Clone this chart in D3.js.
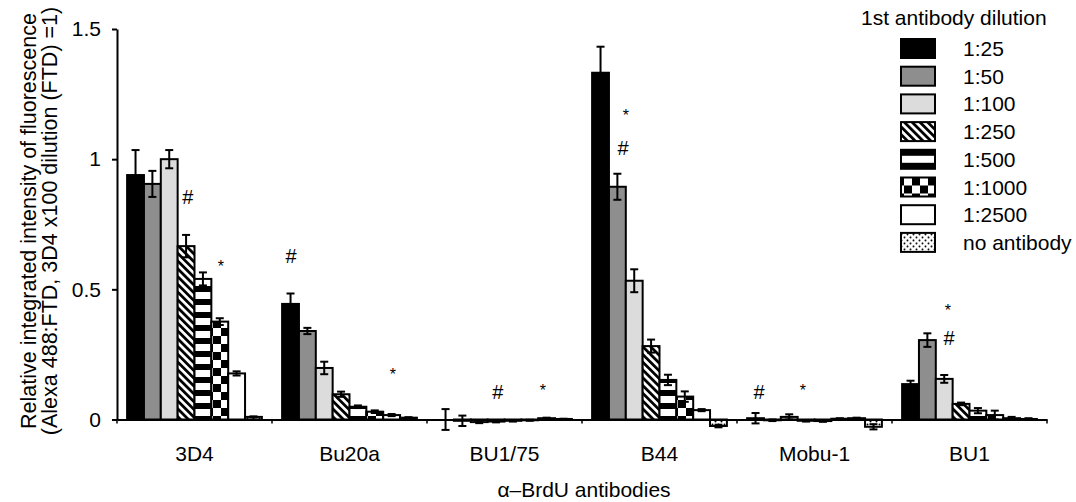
<!DOCTYPE html>
<html>
<head>
<meta charset="utf-8">
<script src="https://cdn.jsdelivr.net/npm/d3@7"></script>
<style>
  body { margin: 0; background: #fff; }
  text { font-family: Arial, "Liberation Sans", sans-serif; fill: #000; }
</style>
</head>
<body>
<svg width="1076" height="502"></svg>
<script>
const categories = ["3D4", "Bu20a", "BU1/75", "B44", "Mobu-1", "BU1"];
const dilutions = ["1:25", "1:50", "1:100", "1:250", "1:500", "1:1000", "1:2500", "no antibody"];
const yTicks = [0, 0.5, 1, 1.5];

// mean values per antibody, one per dilution
const val3D4   = [0.939, 0.905, 1.0, 0.666, 0.54, 0.376, 0.177, 0.01];
const valBu20a = [0.444, 0.34, 0.198, 0.097, 0.049, 0.03, 0.017, 0.007];
const valBU175 = [0.0, -0.005, -0.01, -0.008, -0.005, -0.003, 0.005, 0.002];
const valB44   = [1.332, 0.894, 0.533, 0.282, 0.152, 0.088, 0.036, -0.025];
const valMobu1 = [0.005, -0.003, 0.01, -0.005, -0.006, 0.003, 0.005, -0.028];
const valBU1   = [0.136, 0.305, 0.156, 0.06, 0.034, 0.017, 0.005, 0.002];

// error bars
const err3D4   = [0.096, 0.05, 0.035, 0.043, 0.025, 0.013, 0.008, 0.002];
const errBu20a = [0.04, 0.012, 0.024, 0.01, 0.005, 0.005, 0.004, 0.002];
const errBU175 = [0.04, 0.02, 0.004, 0.003, 0.003, 0.002, 0.002, 0.001];
const errB44   = [0.1, 0.05, 0.044, 0.025, 0.02, 0.02, 0.004, 0.005];
const errMobu1 = [0.02, 0.003, 0.01, 0.003, 0.003, 0.002, 0.002, 0.01];
const errBU1   = [0.013, 0.026, 0.015, 0.005, 0.01, 0.017, 0.005, 0.003];

// significance marks: antibody, position in bar widths from group start, height, symbol
const marks = [
  ["3D4", 3.6, 0.855, "#"], ["3D4", 5.56, 0.601, "*"],
  ["Bu20a", 0.53, 0.628, "#"], ["Bu20a", 6.57, 0.186, "*"],
  ["BU1/75", 3.6, 0.106, "#"], ["BU1/75", 6.27, 0.125, "*"],
  ["B44", 1.83, 1.043, "#"], ["B44", 2.0, 1.181, "*"],
  ["Mobu-1", 0.71, 0.106, "#"], ["Mobu-1", 3.31, 0.125, "*"],
  ["BU1", 2.78, 0.313, "#"], ["BU1", 2.72, 0.432, "*"]
];

const values = [val3D4, valBu20a, valBU175, valB44, valMobu1, valBU1];
const errors = [err3D4, errBu20a, errBU175, errB44, errMobu1, errBU1];

const svg = d3.select("svg");
const fills = ["#000", "#8e8e8e", "#dcdcdc", "url(#p250)", "url(#p500)", "url(#p1000)", "#fff", "url(#pdots)"];

// patterns
const defs = svg.append("defs");
const p250 = defs.append("pattern").attr("id", "p250").attr("patternUnits", "userSpaceOnUse")
  .attr("width", 5.5).attr("height", 10).attr("patternTransform", "rotate(-45)");
p250.append("rect").attr("width", 5.5).attr("height", 10).attr("fill", "#fff");
p250.append("rect").attr("width", 2.8).attr("height", 10).attr("fill", "#000");

const p500 = defs.append("pattern").attr("id", "p500").attr("patternUnits", "userSpaceOnUse")
  .attr("width", 10).attr("height", 13);
p500.append("rect").attr("width", 10).attr("height", 13).attr("fill", "#fff");
p500.append("rect").attr("width", 10).attr("height", 6).attr("fill", "#000");

const p1000 = defs.append("pattern").attr("id", "p1000").attr("patternUnits", "userSpaceOnUse")
  .attr("width", 16).attr("height", 16);
p1000.append("rect").attr("width", 16).attr("height", 16).attr("fill", "#fff");
p1000.append("rect").attr("width", 8).attr("height", 8).attr("fill", "#000");
p1000.append("rect").attr("x", 8).attr("y", 8).attr("width", 8).attr("height", 8).attr("fill", "#000");

const pdots = defs.append("pattern").attr("id", "pdots").attr("patternUnits", "userSpaceOnUse")
  .attr("width", 6).attr("height", 6);
pdots.append("rect").attr("width", 6).attr("height", 6).attr("fill", "#fff");
pdots.append("circle").attr("cx", 1.5).attr("cy", 1.5).attr("r", 1).attr("fill", "#000");
pdots.append("circle").attr("cx", 4.5).attr("cy", 4.5).attr("r", 1).attr("fill", "#000");

// scales
const y = d3.scaleLinear().domain([0, 1.5]).range([419.5, 29]);
const x0 = d3.scaleBand().domain(categories).range([117, 1047]);
const x1 = d3.scaleBand().domain(dilutions).range([0, x0.bandwidth()]).paddingOuter(0.6);

// bars
const groups = svg.selectAll("g.grp")
  .data(categories)
  .join("g")
  .attr("class", "grp")
  .attr("transform", c => `translate(${x0(c)},0)`);

groups.each(function (c, ci) {
  const g = d3.select(this);
  const rows = dilutions.map((d, i) => ({ d, i, v: values[ci][i], e: errors[ci][i] }));

  g.selectAll("rect")
    .data(rows)
    .join("rect")
    .attr("x", r => x1(r.d))
    .attr("width", x1.bandwidth())
    .attr("y", r => y(Math.max(0, r.v)))
    .attr("height", r => Math.abs(y(r.v) - y(0)))
    .attr("fill", r => fills[r.i])
    .attr("stroke", "#000")
    .attr("stroke-width", 2);

  const eb = g.selectAll("g.err")
    .data(rows)
    .join("g")
    .attr("class", "err")
    .attr("transform", r => `translate(${x1(r.d) + x1.bandwidth() / 2},0)`)
    .attr("stroke", "#000")
    .attr("stroke-width", 2);
  eb.append("line").attr("y1", r => y(r.v + r.e)).attr("y2", r => y(r.v - r.e));
  eb.append("line").attr("x1", -4).attr("x2", 4).attr("y1", r => y(r.v + r.e)).attr("y2", r => y(r.v + r.e));
  eb.append("line").attr("x1", -4).attr("x2", 4).attr("y1", r => y(r.v - r.e)).attr("y2", r => y(r.v - r.e));
});

// significance marks
svg.selectAll("text.mark")
  .data(marks)
  .join("text")
  .attr("class", "mark")
  .attr("x", m => x0(m[0]) + x1(dilutions[0]) + m[1] * x1.step())
  .attr("y", m => y(m[2]) + (m[3] === "#" ? 7 : 9))
  .attr("text-anchor", "middle")
  .attr("font-size", m => m[3] === "#" ? 20 : 16)
  .text(m => m[3]);

// x axis
const xAxis = svg.append("g")
  .attr("transform", `translate(0,${y(0)})`)
  .call(d3.axisBottom(x0).tickSize(0).tickPadding(27).tickSizeOuter(0));
xAxis.select(".domain").attr("stroke-width", 2);
xAxis.selectAll("text").attr("font-size", 21).attr("font-family", null);
xAxis.selectAll("line.sep")
  .data(categories.map(c => x0(c)).concat([x0.range()[1]]))
  .join("line")
  .attr("class", "sep")
  .attr("x1", d => d).attr("x2", d => d)
  .attr("y1", 0).attr("y2", 4)
  .attr("stroke", "#000").attr("stroke-width", 1.5);

// y axis
const yAxis = svg.append("g")
  .attr("transform", "translate(117,0)")
  .call(d3.axisLeft(y).tickValues(yTicks).tickSize(5).tickPadding(11).tickSizeOuter(0)
    .tickFormat(d => String(d)));
yAxis.select(".domain").attr("stroke-width", 2);
yAxis.selectAll("line").attr("stroke-width", 2);
yAxis.selectAll("text").attr("font-size", 21).attr("font-family", null);

// axis titles
svg.append("text")
  .attr("x", 584).attr("y", 497)
  .attr("text-anchor", "middle")
  .attr("font-size", 21)
  .text("α–BrdU antibodies");

const yTitle = svg.append("text")
  .attr("transform", "translate(0,221) rotate(-90)")
  .attr("text-anchor", "middle")
  .attr("font-size", 21.5);
yTitle.append("tspan").attr("x", 0).attr("y", 36).text("Relative integrated intensity of fluorescence");
yTitle.append("tspan").attr("x", 0).attr("y", 57).text("(Alexa 488:FTD, 3D4 x100 dilution (FTD) =1)");

// legend
const legend = svg.append("g");
legend.append("text")
  .attr("x", 861).attr("y", 25)
  .attr("font-size", 21)
  .text("1st antibody dilution");
const li = legend.selectAll("g.item")
  .data(dilutions)
  .join("g")
  .attr("class", "item")
  .attr("transform", (d, i) => `translate(0,${39 + i * 27.7})`);
li.append("rect")
  .attr("x", 901).attr("width", 34).attr("height", 19)
  .attr("fill", (d, i) => fills[i])
  .attr("stroke", "#000").attr("stroke-width", 2);
li.append("text")
  .attr("x", 963).attr("y", 17)
  .attr("font-size", 21)
  .text(d => d);
</script>
</body>
</html>
